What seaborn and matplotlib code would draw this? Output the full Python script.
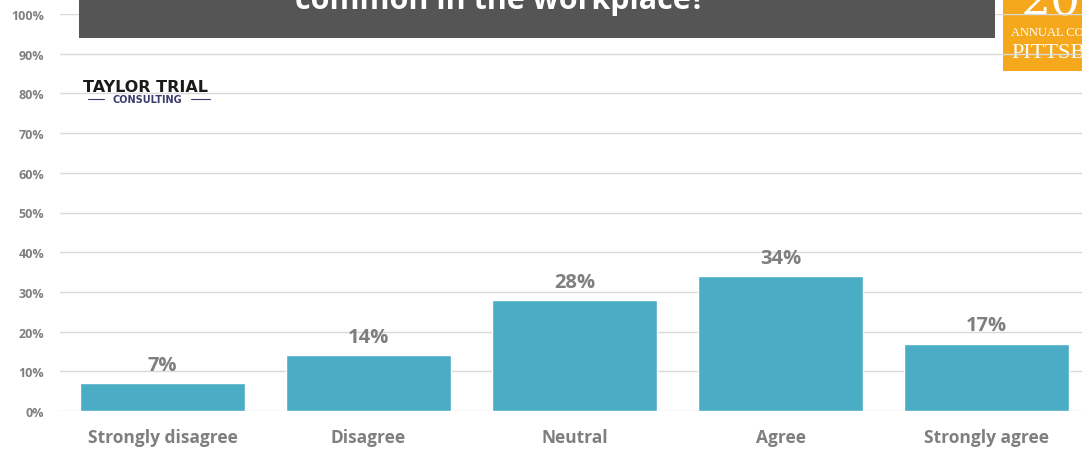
import matplotlib
matplotlib.use("Agg")
import matplotlib.pyplot as plt
import matplotlib.patches as mpatches
import seaborn as sns
import pandas as pd

# Survey responses
categories = ["Strongly disagree", "Disagree", "Neutral", "Agree", "Strongly agree"]
shares = [0.07, 0.14, 0.28, 0.34, 0.17]
y_ticks = [0.0, 0.1, 0.2, 0.3, 0.4, 0.5, 0.6, 0.7, 0.8, 0.9, 1.0]
y_tick_labels = ["0%", "10%", "20%", "30%", "40%", "50%", "60%", "70%", "80%", "90%", "100%"]
title_line = "common in the workplace?"

BAR = "#4BACC6"
GREY_TXT = "#7F7F7F"
GRID = "#D9D9D9"
FONT = ["Open Sans", "DejaVu Sans"]

sns.set_theme(style="white")
plt.rcParams["font.family"] = FONT

W, H = 1082, 456
fig = plt.figure(figsize=(W / 100, H / 100), dpi=100)
fig.patch.set_facecolor("white")

def fx(px):
    return px / W

def fy(py):
    return 1 - py / H

ax = fig.add_axes([fx(59.5), fy(412), fx(W - 59.5), (412 - 15) / H])
ax.set_facecolor("none")

df = pd.DataFrame({"category": categories, "share": shares})
sns.barplot(data=df, x="category", y="share", color=BAR, saturation=1,
            width=0.8, ax=ax, zorder=3)

ax.set_xlim(-0.5, (W - 162.5) / 206)
ax.set_ylim(0, 1)
ax.set_yticks(y_ticks)
ax.set_yticklabels(y_tick_labels)
ax.grid(axis="y", color=GRID, linewidth=1, zorder=0)
ax.grid(axis="x", visible=False)
for s in ax.spines.values():
    s.set_visible(False)
ax.set_xlabel("")
ax.set_ylabel("")
ax.tick_params(axis="y", length=0, pad=11, labelsize=9, labelcolor=GREY_TXT)
ax.tick_params(axis="x", length=0, pad=12, labelsize=12.5, labelcolor=GREY_TXT)
for lab in ax.get_yticklabels() + ax.get_xticklabels():
    lab.set_fontweight("bold")

# Value labels above bars
for i, v in enumerate(shares):
    ax.annotate(f"{round(v * 100)}%", (i, v), xytext=(0, 6), textcoords="offset points",
                ha="center", va="bottom", fontsize=14.5, fontweight="bold", color=GREY_TXT)

# Orange conference badge (behind the gridlines)
badge = mpatches.Rectangle((fx(1003), fy(72)), fx(W - 1003) + 0.01, 72 / H,
                           transform=fig.transFigure, facecolor="#F5A81C",
                           edgecolor="none", zorder=-1)
fig.add_artist(badge)
fig.text(fx(1021), fy(15), "20", color="white", fontsize=34,
         family=["DejaVu Serif"], va="baseline", ha="left", zorder=-1)
fig.text(fx(1011), fy(36), "ANNUAL CONFERENCE", color="white", fontsize=9,
         family=["Liberation Serif"], va="baseline", ha="left", zorder=-1)
fig.text(fx(1011), fy(58), "PITTSBURGH", color="white", fontsize=16,
         family=["Liberation Serif"], va="baseline", ha="left", zorder=-1)

# Dark title banner
banner = mpatches.Rectangle((fx(79), fy(39)), fx(995 - 79), 39 / H + 0.01,
                            transform=fig.transFigure, facecolor="#555555",
                            edgecolor="none", zorder=5)
fig.add_artist(banner)
fig.text(fx(500), fy(9), title_line, color="white", fontsize=22, fontweight="bold",
         va="baseline", ha="center", zorder=6)

# Company wordmark
fig.text(fx(83), fy(92), "TAYLOR TRIAL", color="#1A1A1A", fontsize=11.5,
         fontweight="bold", family=["DejaVu Sans"], va="baseline", ha="left", zorder=6)
fig.text(fx(147.5), fy(103), "CONSULTING", color="#3C3C6E", fontsize=7,
         fontweight="bold", family=["DejaVu Sans"], va="baseline", ha="center", zorder=6)
for x0, x1 in [(88, 104), (191, 210)]:
    fig.add_artist(plt.Line2D([fx(x0), fx(x1)], [fy(100), fy(100)],
                              transform=fig.transFigure, color="#3C3C6E",
                              linewidth=0.8, zorder=6))

fig.savefig("out.png", dpi=100)
